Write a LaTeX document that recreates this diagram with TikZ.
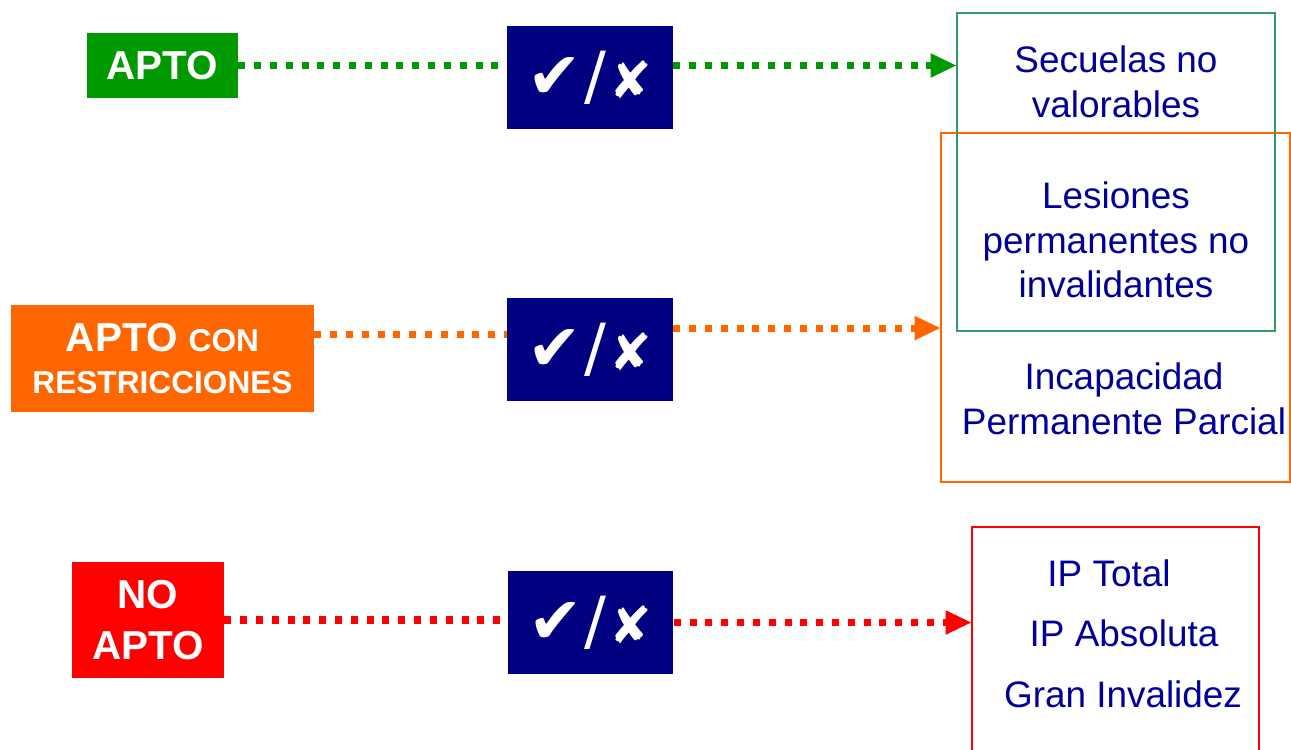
\documentclass[tikz,border=0pt]{standalone}
\usepackage{fontspec}
\setmainfont{Liberation Sans}
\newfontfamily\symfont{DejaVu Sans}
\usetikzlibrary{arrows.meta}
\definecolor{aptogreen}{RGB}{0,153,0}
\definecolor{restorange}{RGB}{255,102,0}
\definecolor{noaptored}{RGB}{255,0,0}
\definecolor{navyblue}{RGB}{0,0,128}
\definecolor{txtblue}{RGB}{0,0,153}
\definecolor{boxgreen}{RGB}{51,153,102}
\newcommand{\siono}{{\fontsize{37}{37}\selectfont ✔}\kern1pt/\kern2pt{\fontsize{29}{30}\selectfont ✘}}

\begin{document}
\begin{tikzpicture}[x=0.02cm, y=-0.02cm,
    tag/.style={text=white, font=\bfseries\fontsize{23}{26}\selectfont, align=center, inner sep=0pt},
    checkbox/.style={fill=navyblue, minimum width=3.32cm, minimum height=2.06cm, inner sep=0pt,
      text=white, font=\symfont\fontsize{37}{37}\selectfont},
    resultbox/.style={draw, line width=1.1pt, inner sep=0pt},
    result/.style={text=txtblue, font=\fontsize{21}{25.5}\selectfont, align=center, inner sep=0pt},
    flow/.style={line width=4pt, dash pattern=on 4pt off 5pt},
    arrowed/.style={-{Triangle[length=14.5pt, width=14pt, line width=0pt]}}]
    \useasboundingbox (0,0) rectangle (1291,750);

    \node[tag, fill=aptogreen, minimum width=3.02cm, minimum height=1.3cm] (apto) at (162.5, 65.5) {APTO};
    \node[tag, fill=restorange, minimum width=6.06cm, minimum height=2.14cm] (conres) at (162.5, 358.5)
      {APTO {\fontsize{18}{20}\selectfont CON}\\[-2pt]{\fontsize{18}{20}\selectfont RESTRICCIONES}};
    \node[tag, fill=noaptored, minimum width=3.04cm, minimum height=2.32cm] (noapto) at (148, 620) {NO\\[3pt]APTO};

    \node[checkbox] (v1) at (590, 77.5) {\siono};
    \node[checkbox] (v2) at (590, 349.5) {\siono};
    \node[checkbox] (v3) at (590.5, 622.5) {\siono};

    \node[resultbox, draw=restorange, minimum width=6.98cm, minimum height=6.98cm] (obox) at (1115.5, 307.5) {};
    \node[resultbox, draw=boxgreen, minimum width=6.36cm, minimum height=6.36cm] (secbox) at (1116, 172) {};
    \node[resultbox, draw=noaptored, minimum width=5.74cm, minimum height=5.06cm] (rbox) at (1115.5, 653.5) {};

    \node[result] (sec) at (1116, 82) {Secuelas no\\valorables};
    \node[result] (les) at (1116, 240) {Lesiones\\permanentes no\\invalidantes};
    \node[result] (inc) at (1124, 399) {Incapacidad\\Permanente Parcial};
    \node[result] (ipt) at (1109, 573) {IP Total};
    \node[result] (ipa) at (1124, 633) {IP Absoluta};
    \node[result] (gi) at (1123, 694) {Gran Invalidez};

    % flechas punteadas
    \draw[flow, aptogreen] (apto.east) -- (apto.east -| v1.west);
    \draw[flow, arrowed, aptogreen] (apto.east -| v1.east) -- (apto.east -| secbox.west);
    \draw[flow, restorange] ([yshift=13.6pt]conres.east) -- ([yshift=13.6pt]conres.east -| v2.west);
    \draw[flow, arrowed, restorange] ([yshift=12.2pt]v2.east) -- ([yshift=12.2pt]v2.east -| obox.west);
    \draw[flow, noaptored] (noapto.east) -- (noapto.east -| v3.west);
    \draw[flow, arrowed, noaptored] (v3.east) -- (v3.east -| rbox.west);
\end{tikzpicture}
\end{document}
